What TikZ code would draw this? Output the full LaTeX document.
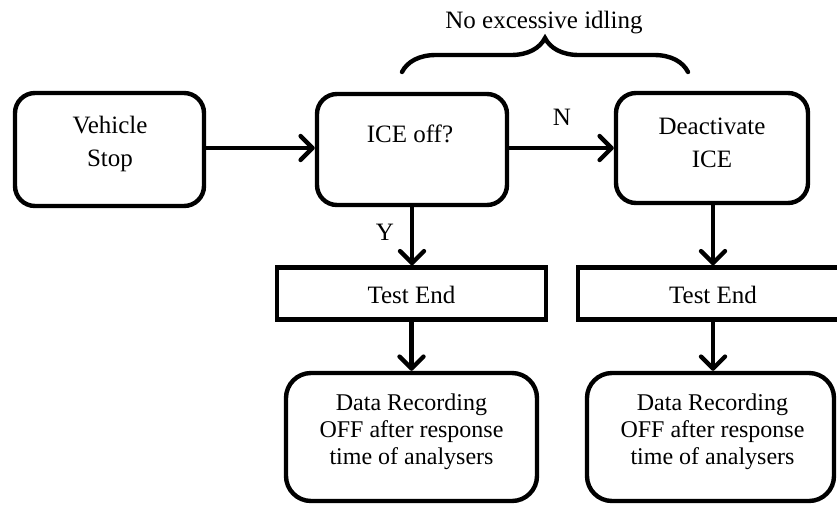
\documentclass[tikz,border=0pt]{standalone}
\usepackage{fontspec}
\setmainfont{Liberation Serif}
\usetikzlibrary{arrows.meta,decorations.pathreplacing}
\begin{document}
\begin{tikzpicture}[x=1pt,y=-1pt,
  rbox/.style={draw, line width=4.4pt, rounded corners=20pt, inner sep=0pt},
  dbox/.style={draw, line width=4.4pt, rounded corners=25pt, inner sep=0pt},
  sbox/.style={draw, line width=4.4pt, inner sep=0pt},
  txt/.style={align=center, inner sep=0pt, font=\fontsize{25}{33}\selectfont},
  dtxt/.style={align=center, inner sep=0pt, font=\fontsize{24}{27}\selectfont},
  flow/.style={line width=4.4pt, -{Straight Barb[length=12pt,width=24pt,line cap=round,line join=round]}}
]
\useasboundingbox (0,0) rectangle (837,504);
\fill[white] (0,0) rectangle (837,504);

% boxes
\node[rbox, minimum width=189pt, minimum height=113pt] (veh) at (109.5,149.5) {};
\node[rbox, minimum width=190pt, minimum height=111pt] (ice) at (412,149.5) {};
\node[rbox, minimum width=192pt, minimum height=110pt] (deact) at (712,148) {};
\node[sbox, minimum width=269pt, minimum height=52pt] (te1) at (411.5,293.5) {};
\node[sbox, minimum width=270pt, minimum height=52pt] (te2) at (713,293.5) {};
\node[dbox, minimum width=251pt, minimum height=128pt] (dr1) at (411.5,437) {};
\node[dbox, minimum width=247pt, minimum height=128pt] (dr2) at (710.5,437) {};

% texts
\node[txt] (vehT) at (110,144) {Vehicle\\Stop};
\node[txt] (iceT) at (410,134) {ICE off?};
\node[txt] (deactT) at (712,143) {Deactivate\\ICE};
\node[txt] (te1T) at (411.5,295) {Test End};
\node[txt] (te2T) at (713,295) {Test End};
\node[dtxt] (dr1T) at (411.5,432) {Data Recording\\OFF after response\\time of analysers};
\node[dtxt] (dr2T) at (712.5,432) {Data Recording\\OFF after response\\time of analysers};

% connectors
\draw[flow] (veh.east |- 0,148) -- (ice.west |- 0,148);
\draw[flow] (ice.east |- 0,148) -- (deact.west |- 0,148);
\draw[flow] (ice.south) -- (ice.south |- te1.north);
\draw[flow] (deact.south -| te2.north) -- (te2.north);
\draw[flow] (te1.south) -- (te1.south |- dr1.north);
\draw[flow] (te2.south) -- (te2.south |- dr2.north);

\node[txt] (nlab) at (562,117) {N};
\node[txt] (ylab) at (385,232) {Y};

% brace
\coordinate (bl) at (402,72);
\coordinate (br) at (688,72);
\draw[line width=4.4pt, line cap=round, decorate, decoration={brace, amplitude=34pt}] (bl) -- (br);
\node[txt] (brT) at (544,23) {No excessive idling};
\end{tikzpicture}
\end{document}
